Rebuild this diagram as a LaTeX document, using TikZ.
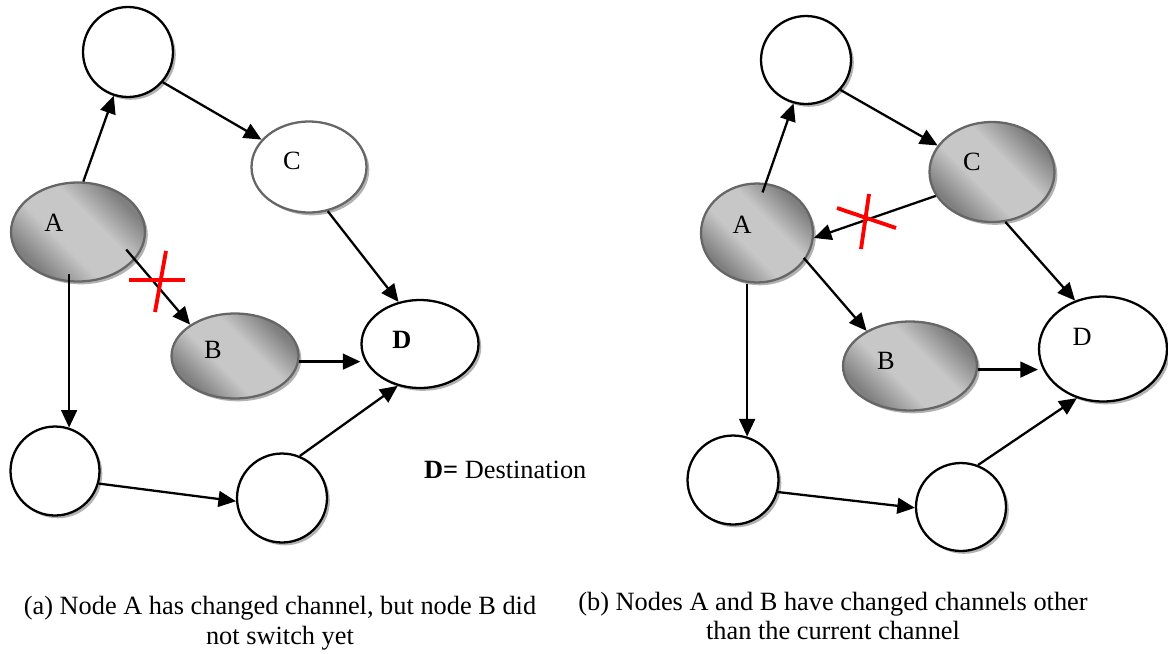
\documentclass[tikz,border=0pt]{standalone}
\usepackage{fontspec}
\setmainfont{Liberation Serif}
\usetikzlibrary{shapes.geometric,arrows.meta,shadows}
\pgfdeclarehorizontalshading{nodeshade}{100bp}{color(0bp)=(black!52); color(27bp)=(black!50);
  color(42bp)=(black!22); color(58bp)=(black!22); color(73bp)=(black!50); color(100bp)=(black!52)}
\begin{document}
\begin{tikzpicture}[x=0.02cm,y=-0.02cm,
      every node/.style={font=\fontsize{15}{17}\selectfont},
      shd/.style={drop shadow={shadow xshift=1.6pt,shadow yshift=-1.6pt,fill=black!30,opacity=1}},
      wnode/.style={ellipse,draw,fill=white,line width=1.3pt,inner sep=0pt,shd},
      gnode/.style={ellipse,draw=black!60,line width=1.3pt,inner sep=0pt,shd,
        shading=nodeshade,shading angle=45},
      arr/.style={-{Triangle[length=10pt,width=9pt]},line width=1.3pt},
      cut/.style={red,line width=2.2pt}]
      \useasboundingbox (0,0) rectangle (1168,653);

      \node[wnode, minimum width=1.8cm, minimum height=1.8cm] (t1) at (128,52){};
      \node[wnode, draw=black!60, minimum width=2.3cm, minimum height=1.82cm,
        label={[xshift=-0.34cm,yshift=0.12cm]center:C}] (C1) at (309,167){};
      \node[gnode, minimum width=2.68cm, minimum height=1.98cm,
        label={[xshift=-0.48cm,yshift=0.18cm]center:A}] (A1) at (78,232){};
      \node[gnode, minimum width=2.54cm, minimum height=1.7cm,
        label={[xshift=-0.44cm,yshift=0.12cm]center:B}] (B1) at (235,356){};
      \node[wnode, minimum width=2.34cm, minimum height=1.76cm,
        label={[xshift=-0.36cm,yshift=0.08cm]center:\textbf{D}}] (D1) at (420,344){};
      \node[wnode, minimum width=1.78cm, minimum height=1.78cm] (L1) at (55,471){};
      \node[wnode, minimum width=1.8cm, minimum height=1.78cm] (M1) at (282,498){};

      \draw[arr](A1.84) -- (t1.-108);
      \draw[arr](t1.-41) -- (C1.150);
      \draw[arr](C1.-67) -- (D1.117);
      \draw[arr, shorten <=-0.27cm](A1.-26) -- (B1.145);
      \draw[arr, shorten <=-0.16cm](L1.72 |- A1.-99) -- (L1.72);
      \draw[arr](B1.-5) -- (B1.-5 -| D1.west);
      \draw[arr](L1.-16) -- (M1.184);
      \draw[arr](M1.67) -- (D1.-118);
      \draw[cut](129,280) -- (185,280);
      \draw[cut](166,251) -- (155,312);

      \node[anchor=west] (key) at (418,470){\textbf{D=} Destination};
      \node[align=center] (capa) at (280,623){(a) Node A has changed channel, but node B did\\not switch yet};

      \node[wnode, minimum width=1.8cm, minimum height=1.76cm] (t2) at (806,60){};
      \node[gnode, minimum width=2.5cm, minimum height=2.0cm,
        label={[xshift=-0.4cm,yshift=0.2cm]center:C}] (C2) at (992,172){};
      \node[gnode, minimum width=2.24cm, minimum height=1.98cm,
        label={[xshift=-0.3cm,yshift=0.16cm]center:A}] (A2) at (757,233){};
      \node[gnode, minimum width=2.68cm, minimum height=1.78cm,
        label={[xshift=-0.48cm,yshift=0.1cm]center:B}] (B2) at (910,366){};
      \node[wnode, minimum width=2.56cm, minimum height=2.1cm,
        label={[xshift=-0.42cm,yshift=0.24cm]center:D}] (D2) at (1103,349){};
      \node[wnode, minimum width=1.82cm, minimum height=1.78cm] (L2) at (733,480){};
      \node[wnode, minimum width=1.8cm, minimum height=1.76cm] (M2) at (961,507){};

      \draw[arr, shorten <=-0.2cm](A2.80) -- (t2.-106);
      \draw[arr](t2.-41) -- (C2.154);
      \draw[arr](C2.-157) -- (A2.-5);
      \draw[arr](C2.-75) -- (D2.120);
      \draw[arr, shorten <=-0.05cm](A2.-29) -- (B2.141);
      \draw[arr](L2.72 |- A2.south) -- (L2.72);
      \draw[arr](B2.-3) -- (B2.-3 -| D2.west);
      \draw[arr](L2.-15) -- (M2.-179);
      \draw[arr](M2.68) -- (D2.-118);
      \draw[cut](837,208) -- (896,228);
      \draw[cut](869,194) -- (861,249);

      \node[align=center] (capb) at (833,616){(b) Nodes A and B have changed channels other\\than the current channel};

    \end{tikzpicture}
\end{document}
